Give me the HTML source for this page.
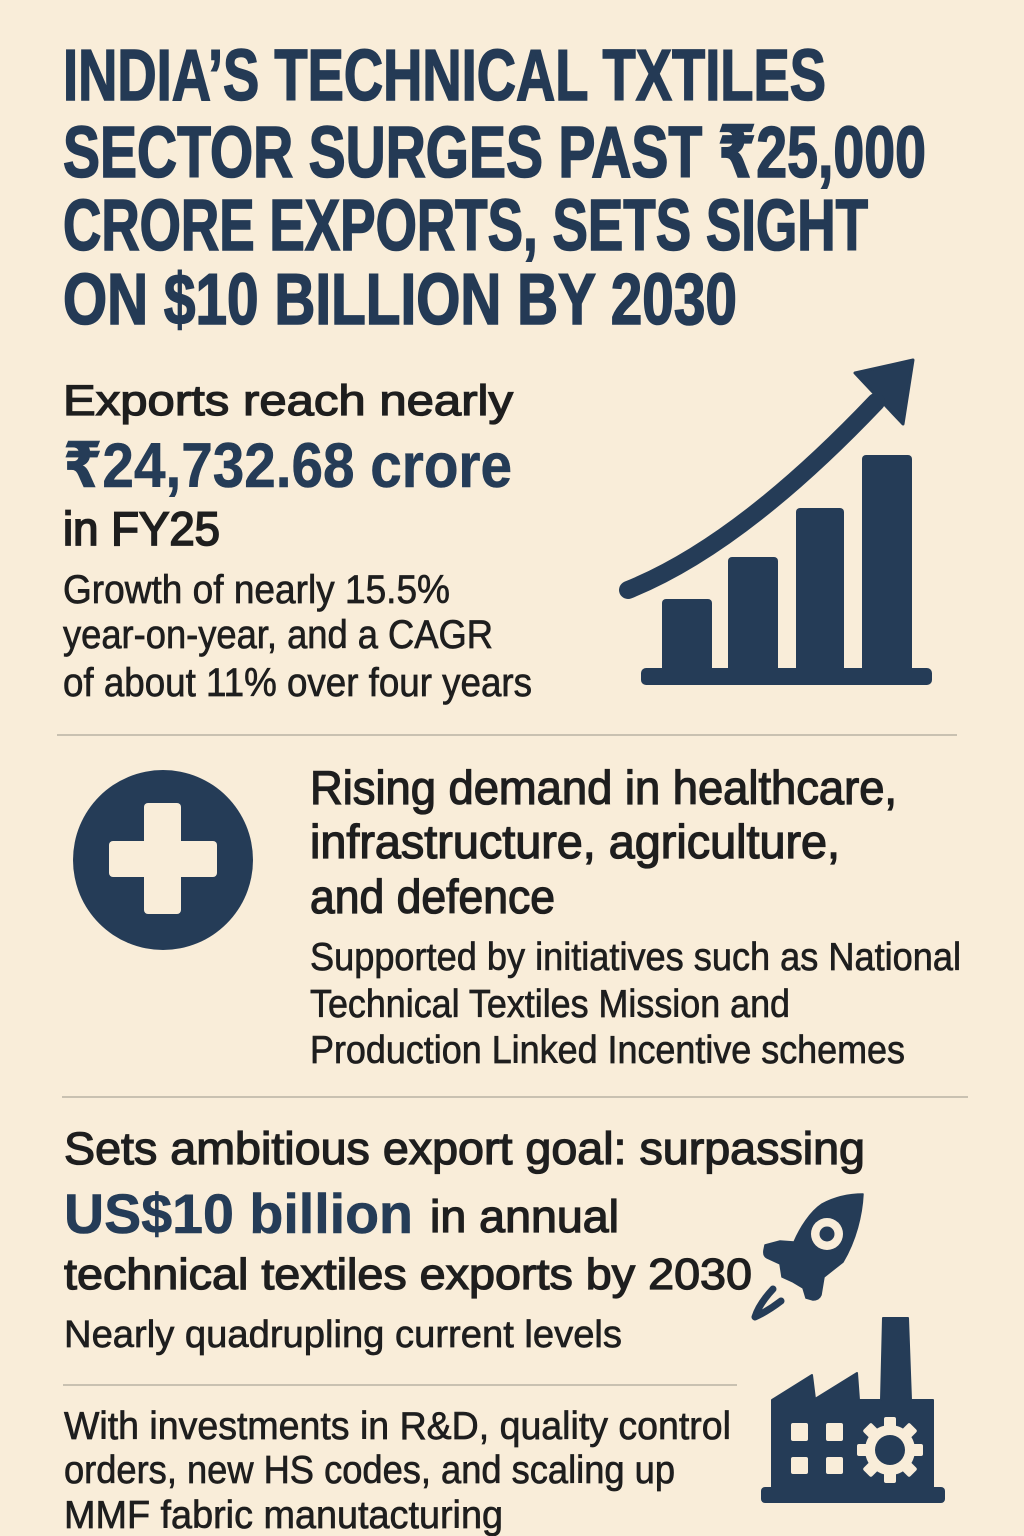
<!DOCTYPE html>
<html>
<head>
<meta charset="utf-8">
<style>
  html,body{margin:0;padding:0;background:#F9EDD9;}
  svg{display:block;}
  .t{font-family:"Liberation Sans Narrow","Liberation Sans","DejaVu Sans",sans-serif;font-weight:700;font-size:72px;fill:#243A55;stroke:#243A55;stroke-width:1.6px;}
  .h{font-family:"Liberation Sans","DejaVu Sans",sans-serif;font-weight:400;fill:#1E1E1E;stroke:#1E1E1E;stroke-width:1.3px;}
  .s{font-family:"Liberation Sans","DejaVu Sans",sans-serif;font-weight:400;fill:#1E1E1E;stroke:#1E1E1E;stroke-width:0.7px;}
  .n{font-family:"Liberation Sans","DejaVu Sans",sans-serif;font-weight:700;fill:#253C57;stroke:#253C57;stroke-width:0.6px;}
</style>
</head>
<body>
<svg width="1024" height="1536" viewBox="0 0 1024 1536" xmlns="http://www.w3.org/2000/svg">
  <rect x="0" y="0" width="1024" height="1536" fill="#F9EDD9"/>

  <!-- Title -->
  <text class="t" x="63" y="100" textLength="763" lengthAdjust="spacingAndGlyphs">INDIA’S TECHNICAL TXTILES</text>
  <text class="t" x="63" y="177" textLength="863" lengthAdjust="spacingAndGlyphs">SECTOR SURGES PAST ₹25,000</text>
  <text class="t" x="63" y="250" textLength="805" lengthAdjust="spacingAndGlyphs">CRORE EXPORTS, SETS SIGHT</text>
  <text class="t" x="63" y="324" textLength="674" lengthAdjust="spacingAndGlyphs">ON $10 BILLION BY 2030</text>

  <!-- Section 1 text -->
  <text class="h" x="63" y="415" font-size="43" textLength="450" lengthAdjust="spacingAndGlyphs">Exports reach nearly</text>
  <text class="n" x="63" y="487" font-size="63" textLength="449" lengthAdjust="spacingAndGlyphs">₹24,732.68 crore</text>
  <text class="h" x="63" y="545" font-size="47" textLength="157" lengthAdjust="spacingAndGlyphs" style="stroke-width:1.8px">in FY25</text>
  <text class="s" x="63" y="603" font-size="40" textLength="387" lengthAdjust="spacingAndGlyphs">Growth of nearly 15.5%</text>
  <text class="s" x="63" y="648" font-size="40" textLength="430" lengthAdjust="spacingAndGlyphs">year-on-year, and a CAGR</text>
  <text class="s" x="63" y="696" font-size="40" textLength="469" lengthAdjust="spacingAndGlyphs">of about 11% over four years</text>

  <!-- Chart icon -->
  <g fill="#253C57">
    <rect x="662" y="599" width="50" height="78" rx="4"/>
    <rect x="728" y="557" width="50" height="120" rx="4"/>
    <rect x="796" y="508" width="48" height="169" rx="4"/>
    <rect x="862" y="455" width="50" height="222" rx="4"/>
    <rect x="641" y="668" width="291" height="17" rx="5"/>
    <polygon points="855,373 913,360 903,424" stroke="#253C57" stroke-width="3" stroke-linejoin="round"/>
  </g>
  <path d="M628,590 Q740,545 876,402" fill="none" stroke="#253C57" stroke-width="18" stroke-linecap="round"/>

  <!-- Separator 1 -->
  <line x1="57" y1="735" x2="957" y2="735" stroke="#C9C1B1" stroke-width="2"/>

  <!-- Plus icon -->
  <circle cx="163" cy="860" r="90" fill="#253C57"/>
  <rect x="144" y="803" width="37" height="111" rx="4" fill="#F9EDD9"/>
  <rect x="109" y="841" width="108" height="36" rx="4" fill="#F9EDD9"/>

  <!-- Section 2 text -->
  <text class="h" x="310" y="804" font-size="47" textLength="587" lengthAdjust="spacingAndGlyphs">Rising demand in healthcare,</text>
  <text class="h" x="310" y="858" font-size="47" textLength="530" lengthAdjust="spacingAndGlyphs">infrastructure, agriculture,</text>
  <text class="h" x="310" y="913" font-size="47" textLength="245" lengthAdjust="spacingAndGlyphs">and defence</text>
  <text class="s" x="310" y="970" font-size="39" textLength="651" lengthAdjust="spacingAndGlyphs">Supported by initiatives such as National</text>
  <text class="s" x="310" y="1017" font-size="39" textLength="480" lengthAdjust="spacingAndGlyphs">Technical Textiles Mission and</text>
  <text class="s" x="310" y="1063" font-size="39" textLength="595" lengthAdjust="spacingAndGlyphs">Production Linked Incentive schemes</text>

  <!-- Separator 2 -->
  <line x1="62" y1="1097" x2="968" y2="1097" stroke="#C9C1B1" stroke-width="2"/>

  <!-- Section 3 text -->
  <text class="h" x="64" y="1164" font-size="45" textLength="801" lengthAdjust="spacingAndGlyphs">Sets ambitious export goal: surpassing</text>
  <text class="n" x="64" y="1233" font-size="56" textLength="349" lengthAdjust="spacingAndGlyphs">US$10 billion</text>
  <text class="h" x="430" y="1232" font-size="45" textLength="189" lengthAdjust="spacingAndGlyphs">in annual</text>
  <text class="h" x="64" y="1289" font-size="44" textLength="688" lengthAdjust="spacingAndGlyphs">technical textiles exports by 2030</text>
  <text class="s" x="64" y="1347" font-size="38" textLength="558" lengthAdjust="spacingAndGlyphs">Nearly quadrupling current levels</text>

  <!-- Rocket -->
  <path d="M863,1194 C862,1215 856,1240 843,1262 L824,1277 L821,1295 Q819,1300 813,1300 L806,1298 L803,1288 L793,1282 L782,1277 L780,1264 L767,1258 Q763,1256 764,1250 L765,1245 L780,1241 L794,1242 C800,1228 810,1212 822,1204 C835,1197 850,1194 863,1194 Z" fill="#253C57" stroke="#253C57" stroke-width="1.5" stroke-linejoin="round"/>
  <circle cx="827" cy="1234" r="16" fill="#F9EDD9"/>
  <circle cx="827" cy="1234" r="7.5" fill="#253C57"/>
  <path d="M773,1289 Q759,1304 755,1317 Q768,1311 781,1301" fill="none" stroke="#253C57" stroke-width="7" stroke-linecap="round" stroke-linejoin="round"/>

  <!-- Separator 3 -->
  <line x1="63" y1="1385" x2="737" y2="1385" stroke="#C9C1B1" stroke-width="2"/>

  <!-- Factory -->
  <g fill="#253C57">
    <path d="M772,1400 L812,1375 L815,1399 L857,1373 L859,1400 L881,1400 L883,1318 L908,1318 L911,1400 L933,1400 L933,1492 L772,1492 Z" stroke="#253C57" stroke-width="2" stroke-linejoin="round"/>
    <rect x="761" y="1487" width="184" height="16" rx="4"/>
  </g>
  <g fill="#F9EDD9">
    <rect x="791" y="1423" width="17" height="18" rx="2"/>
    <rect x="826" y="1423" width="17" height="18" rx="2"/>
    <rect x="791" y="1457" width="17" height="17" rx="2"/>
    <rect x="826" y="1457" width="17" height="17" rx="2"/>
    <g transform="translate(890,1450)">
      <circle cx="0" cy="0" r="25"/>
      <rect x="-6" y="-33" width="12" height="12" rx="2"/>
      <rect x="-6" y="-33" width="12" height="12" rx="2" transform="rotate(45)"/>
      <rect x="-6" y="-33" width="12" height="12" rx="2" transform="rotate(90)"/>
      <rect x="-6" y="-33" width="12" height="12" rx="2" transform="rotate(135)"/>
      <rect x="-6" y="-33" width="12" height="12" rx="2" transform="rotate(180)"/>
      <rect x="-6" y="-33" width="12" height="12" rx="2" transform="rotate(225)"/>
      <rect x="-6" y="-33" width="12" height="12" rx="2" transform="rotate(270)"/>
      <rect x="-6" y="-33" width="12" height="12" rx="2" transform="rotate(315)"/>
      <circle cx="0" cy="0" r="15" fill="#253C57"/>
    </g>
  </g>

  <!-- Section 4 text -->
  <text class="s" x="64" y="1439" font-size="39" textLength="667" lengthAdjust="spacingAndGlyphs">With investments in R&amp;D, quality control</text>
  <text class="s" x="64" y="1483" font-size="39" textLength="611" lengthAdjust="spacingAndGlyphs">orders, new HS codes, and scaling up</text>
  <text class="s" x="64" y="1528" font-size="39" textLength="439" lengthAdjust="spacingAndGlyphs">MMF fabric manutacturing</text>
</svg>
</body>
</html>
